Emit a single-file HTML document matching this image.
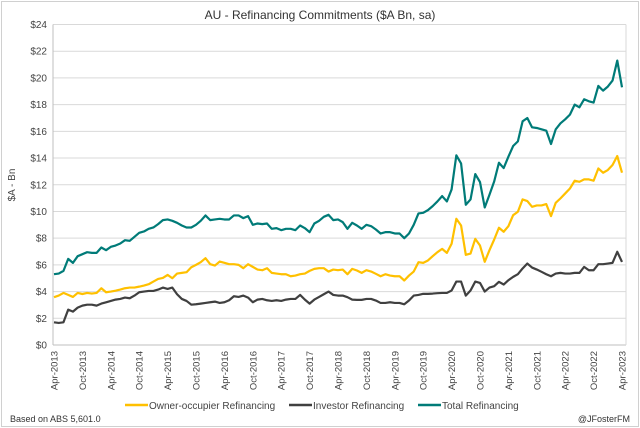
<!DOCTYPE html>
<html><head><meta charset="utf-8">
<style>
html,body{margin:0;padding:0;background:#fff;}
svg{display:block;font-family:"Liberation Sans",sans-serif;}
</style></head>
<body>
<svg id="chart" width="640" height="428" viewBox="0 0 640 428" xmlns="http://www.w3.org/2000/svg">
<rect x="1.5" y="1.5" width="637" height="425" fill="#fff" stroke="#d0d0d0"/>
<text x="320" y="19" text-anchor="middle" font-size="12" fill="#333">AU - Refinancing Commitments ($A Bn, sa)</text>
<g id="grid"></g>
<g id="yticks"></g>
<g id="xticks"></g>
<g id="series"></g>
<text transform="translate(15,185) rotate(-90)" text-anchor="middle" font-size="10" fill="#444">$A - Bn</text>
<g>
<g><line x1="125" y1="405" x2="148" y2="405" stroke="#FFC000" stroke-width="2.5"/><text x="149" y="409" font-size="10" fill="#444">Owner-occupier Refinancing</text></g>
<g><line x1="289" y1="405" x2="312" y2="405" stroke="#404040" stroke-width="2.5"/><text x="313" y="409" font-size="10" fill="#444">Investor Refinancing</text></g>
<g><line x1="418" y1="405" x2="441" y2="405" stroke="#007B78" stroke-width="2.5"/><text x="442" y="409" font-size="10" fill="#444">Total Refinancing</text></g>
</g>
<text x="10" y="422" font-size="9" fill="#333">Based on ABS 5,601.0</text>
<text x="630" y="422" text-anchor="end" font-size="9" fill="#333">@JFosterFM</text>
</svg>
<script>
const yTicks=[0,2,4,6,8,10,12,14,16,18,20,22,24];
const xLabels=["Apr-2013","Oct-2013","Apr-2014","Oct-2014","Apr-2015","Oct-2015","Apr-2016","Oct-2016","Apr-2017","Oct-2017","Apr-2018","Oct-2018","Apr-2019","Oct-2019","Apr-2020","Oct-2020","Apr-2021","Oct-2021","Apr-2022","Oct-2022","Apr-2023"];
const total=[5.3,5.35,5.55,6.45,6.15,6.65,6.8,6.95,6.9,6.9,7.3,7.1,7.35,7.45,7.6,7.85,7.8,8.1,8.4,8.5,8.7,8.8,9.05,9.35,9.4,9.3,9.15,8.95,8.8,8.8,9.0,9.3,9.7,9.35,9.4,9.45,9.4,9.4,9.7,9.7,9.5,9.65,9.0,9.1,9.05,9.1,8.7,8.75,8.6,8.7,8.7,8.6,8.95,8.75,8.45,9.1,9.3,9.6,9.75,9.35,9.4,9.2,8.7,9.15,8.95,8.7,9.0,8.9,8.65,8.35,8.45,8.45,8.35,8.35,8.0,8.35,9.0,9.85,9.9,10.1,10.4,10.75,11.15,10.75,11.65,14.2,13.6,10.5,10.9,12.8,12.2,10.3,11.25,12.25,13.65,13.25,14.1,14.9,15.25,16.75,17.0,16.3,16.25,16.15,16.05,15.05,16.15,16.6,16.9,17.25,18.0,17.8,18.4,18.25,18.15,19.4,19.05,19.35,19.8,21.3,19.3];
const owner=[3.58,3.7,3.9,3.75,3.6,3.9,3.82,3.9,3.85,3.9,4.25,3.95,4.0,4.07,4.15,4.25,4.3,4.3,4.37,4.45,4.55,4.75,4.95,5.02,5.25,5.0,5.35,5.4,5.45,5.82,6.0,6.2,6.5,6.05,5.95,6.25,6.15,6.05,6.05,6.0,5.75,6.05,5.85,5.65,5.6,5.75,5.4,5.35,5.3,5.3,5.15,5.2,5.3,5.35,5.55,5.7,5.75,5.75,5.5,5.65,5.6,5.65,5.3,5.7,5.58,5.4,5.6,5.5,5.33,5.15,5.3,5.2,5.15,5.15,4.83,5.2,5.5,6.2,6.15,6.33,6.65,6.95,7.2,6.9,7.58,9.45,8.95,6.75,6.85,7.95,7.45,6.23,7.1,7.9,8.78,8.48,8.9,9.72,9.98,10.9,10.78,10.35,10.45,10.45,10.55,9.65,10.65,10.98,11.35,11.72,12.3,12.22,12.4,12.4,12.3,13.22,12.9,13.1,13.48,14.15,12.9];
const investor=[1.7,1.65,1.7,2.65,2.5,2.8,2.95,3.02,3.02,2.95,3.1,3.2,3.3,3.4,3.45,3.55,3.5,3.7,3.95,4.0,4.05,4.05,4.15,4.3,4.2,4.3,3.8,3.45,3.3,3.02,3.05,3.1,3.15,3.2,3.25,3.15,3.2,3.35,3.65,3.6,3.7,3.55,3.2,3.4,3.45,3.35,3.3,3.35,3.3,3.4,3.45,3.45,3.75,3.4,3.1,3.4,3.6,3.8,4.0,3.75,3.7,3.7,3.58,3.4,3.38,3.38,3.45,3.45,3.33,3.15,3.15,3.2,3.15,3.15,3.05,3.33,3.7,3.75,3.83,3.83,3.85,3.88,3.9,3.9,4.08,4.75,4.75,3.7,4.08,4.75,4.65,4.0,4.3,4.4,4.73,4.53,4.85,5.1,5.3,5.73,6.1,5.8,5.65,5.48,5.3,5.15,5.35,5.4,5.35,5.35,5.4,5.4,5.85,5.6,5.6,6.05,6.05,6.1,6.15,6.98,6.22];

const NS="http://www.w3.org/2000/svg";
const X0=54,X1=622,Y0=345,Y1=24.5,YMAX=24,N=total.length;
function xPos(i){return X0+i*(X1-X0)/(N-1);}
function yPos(v){return Y0-(v/YMAX)*(Y0-Y1);}
function mk(tag,attrs,parent){const e=document.createElementNS(NS,tag);for(const k in attrs)e.setAttribute(k,attrs[k]);parent.appendChild(e);return e;}

const grid=document.getElementById('grid'),yt=document.getElementById('yticks'),xt=document.getElementById('xticks'),ser=document.getElementById('series');
yTicks.forEach(v=>{
  const y=yPos(v);
  if(v>0){const l=mk('line',{x1:53,x2:626,y1:y,y2:y,stroke:'#d9d9d9','stroke-width':1},grid);
  
  }
  const t=mk('text',{x:47,y:y+3.5,'text-anchor':'end','font-size':'10',fill:'#444'},yt);
  t.textContent='$'+v;
  
  
});
const ax=mk('line',{x1:53,x2:53,y1:Y1,y2:Y0,stroke:'#bfbfbf','stroke-width':1},grid);


const bx=mk('line',{x1:53,x2:626,y1:Y0,y2:Y0,stroke:'#bfbfbf','stroke-width':1},grid);


const rx=mk('line',{x1:626,x2:626,y1:Y1,y2:Y0,stroke:'#d9d9d9','stroke-width':1},grid);


xLabels.forEach((lab,k)=>{
  const x=xPos(k*6);
  const t=mk('text',{transform:`translate(${x+3.5},351) rotate(-90)`,'text-anchor':'end','font-size':'9.5',fill:'#444'},xt);
  t.textContent=lab;
  
  
});
function drawLine(arr,color,name){
  const d=arr.map((v,i)=>(i?'L':'M')+xPos(i).toFixed(2)+','+yPos(v).toFixed(2)).join('');
  const p=mk('path',{d:d,fill:'none',stroke:color,'stroke-width':2.2,'stroke-linejoin':'round'},ser);
  
  
}
drawLine(owner,'#FFC000','owner-occupier-line');
drawLine(investor,'#404040','investor-line');
drawLine(total,'#007B78','total-line');
</script>
</body></html>
